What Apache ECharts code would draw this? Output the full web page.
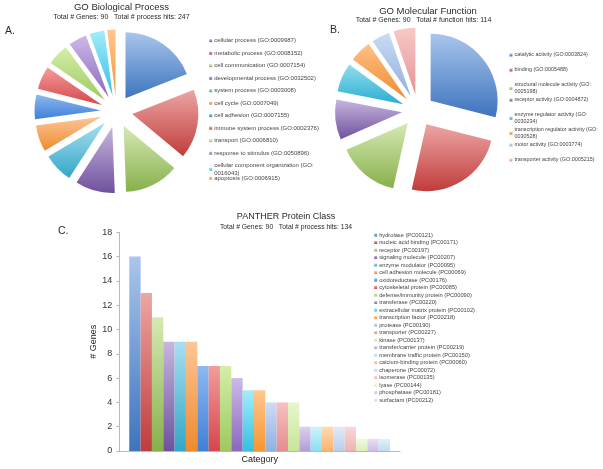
<!DOCTYPE html>
<html><head><meta charset="utf-8">
<script src="https://cdn.jsdelivr.net/npm/echarts@6/dist/echarts.min.js"></script>
<style>html,body{margin:0;padding:0;background:#fff}#c{width:603px;height:469px}</style>
</head><body><div id="c"></div>
<script>
// ---------- DATA ----------
const bpNames = ["cellular process (GO:0009987)","metabolic process (GO:0008152)","cell communication (GO:0007154)","developmental process (GO:0032502)","system process (GO:0003008)","cell cycle (GO:0007049)","cell adhesion (GO:0007155)","immune system process (GO:0002376)","transport (GO:0006810)","response to stimulus (GO:0050896)","cellular component organization (GO:0016043)","apoptosis (GO:0006915)"];
const bpLabels = ["cellular process (GO:0009987)","metabolic process (GO:0008152)","cell communication (GO:0007154)","developmental process (GO:0032502)","system process (GO:0003008)","cell cycle (GO:0007049)","cell adhesion (GO:0007155)","immune system process (GO:0002376)","transport (GO:0006810)","response to stimulus (GO:0050896)","cellular component organization (GO:\n0016043)","apoptosis (GO:0006915)"];
const bpValues = [47, 42, 33, 24, 18, 16, 15, 14, 13, 11, 9, 5];

const mfNames = ["catalytic activity (GO:0003824)","binding (GO:0005488)","structural molecule activity (GO:0005198)","receptor activity (GO:0004872)","enzyme regulator activity (GO:0030234)","transcription regulator activity (GO:0030528)","motor activity (GO:0003774)","transporter activity (GO:0005215)"];
const mfLabels = ["catalytic activity (GO:0003824)","binding (GO:0005488)","structural molecule activity (GO:\n0005198)","receptor activity (GO:0004872)","enzyme regulator activity (GO:\n0030234)","transcription regulator activity (GO:\n0030528)","motor activity (GO:0003774)","transporter activity (GO:0005215)"];
const mfValues = [33, 28, 17, 11, 8, 6, 5, 6];

const pcNames = ["hydrolase (PC00121)","nucleic acid binding (PC00171)","receptor (PC00197)","signaling molecule (PC00207)","enzyme modulator (PC00095)","cell adhesion molecule (PC00069)","oxidoreductase (PC00176)","cytoskeletal protein (PC00085)","defense/immunity protein (PC00090)","transferase (PC00220)","extracellular matrix protein (PC00102)","transcription factor (PC00218)","protease (PC00190)","transporter (PC00227)","kinase (PC00137)","transfer/carrier protein (PC00219)","membrane traffic protein (PC00150)","calcium-binding protein (PC00060)","chaperone (PC00072)","isomerase (PC00135)","lyase (PC00144)","phosphatase (PC00181)","surfactant (PC00212)"];
const pcValues = [16, 13, 11, 9, 9, 9, 7, 7, 7, 6, 5, 5, 4, 4, 4, 2, 2, 2, 2, 2, 1, 1, 1];
const yMin = 0, yMax = 18, yStep = 2;

// ---------- STYLES ----------
const FONT = "'Liberation Sans', Arial, Helvetica, sans-serif";
const base = [
  ["#a9c5ec","#3d74be"],["#eca6a4","#c03c3b"],["#d6e9b4","#87b04b"],["#c6b6df","#6f519d"],["#a8dff0","#33a6c6"],["#fcc698","#ee8a2e"]
];
const bright = [
  ["#8cb9f2","#3f80d6"],["#f39c9c","#d6464a"],["#d4eea8","#9dc95f"],["#cdb9e8","#8a68bf"],["#a3ecfb","#34c0e0"],["#ffc88e","#f59632"]
];
const light = [
  ["#cddcf4","#8fb1e2"],["#f8c0c0","#e38e8e"],["#e8f6cc","#c7e599"],["#ddd0ef","#b39dd6"],["#cdf3fb","#8ddff1"],["#ffdab4","#fcb26c"]
];
const lighter = [
  ["#e2eaf7","#b9cdec"],["#f9d8d8","#eeb2b2"],["#f0f9e0","#dbefb6"],["#e8e0f3","#cbbde5"],["#e2f1fa","#bcdcf1"]
];
const mfColors = [base[0],base[1],base[2],base[3],["#94ddf0","#2aaed0"],["#ffc187","#f0892a"],["#cbdaf3","#8fb0df"],["#f8c8c8","#e59494"]];
const bpColors = base.concat(bright);
const pcColors = base.concat(bright, light, lighter);

function grad(c){
  return new echarts.graphic.LinearGradient(0,0,0,1,[{offset:0,color:c[0]},{offset:1,color:c[1]}]);
}
function legends(names, labels, left, y0, pitch, fs){
  const lh = fs + 1.2;
  return names.map((n,i)=>({
    data:[n], orient:'vertical', left:left, top: y0 + i*pitch - lh/2, padding:0,
    itemWidth:3, itemHeight:3, icon:'rect', selectedMode:false,
    formatter: function(name){ return labels[names.indexOf(name)]; },
    textStyle:{fontSize:fs, lineHeight:lh, color:'#444', fontFamily:FONT, padding:[0,0,0,-3]}
  }));
}
function t(text, left, top, fs, align){
  const o = {text:text, left:left, top:top, padding:0, itemGap:0,
    textStyle:{fontSize:fs, fontWeight:'normal', color:'#2a2a2a', fontFamily:FONT}};
  if (align) o.textAlign = align;
  return o;
}

const chart = echarts.init(document.getElementById('c'), null, {renderer:'canvas'});

const titles = [
  t('GO Biological Process', 121.5, 2.8, 9.5, 'center'),
  t('Total # Genes: 90   Total # process hits: 247', 121.5, 13.8, 7, 'center'),
  t('A.', 5, 25.5, 10.5),
  t('GO Molecular Function', 428, 6, 9.5, 'center'),
  t('Total # Genes: 90   Total # function hits: 114', 423.5, 16.5, 7, 'center'),
  t('B.', 330, 24.5, 10.5),
  t('PANTHER Protein Class', 286, 212.5, 9, 'center'),
  t('Total # Genes: 90   Total # process hits: 134', 286, 223.6, 6.8, 'center'),
  t('C.', 58, 225.5, 10.5)
];

const series = [
  {type:'pie', name:'bp', center:[116.5,111.5], radius:66, startAngle:90, clockwise:true,
   selectedMode:'multiple', selectedOffset:16, label:{show:false}, labelLine:{show:false},
   emphasis:{disabled:true}, animation:false,
   data: bpNames.map((n,i)=>({name:n, value:bpValues[i], selected:true, itemStyle:{color:grad(bpColors[i])}}))},
  {type:'pie', name:'mf', center:[418,110.6], radius:67, startAngle:90, clockwise:true,
   selectedMode:'multiple', selectedOffset:16, label:{show:false}, labelLine:{show:false},
   emphasis:{disabled:true}, animation:false,
   data: mfNames.map((n,i)=>({name:n, value:mfValues[i], selected:true, itemStyle:{color:grad(mfColors[i])}}))}
].concat(pcNames.map((n,i)=>({
  type:'bar', name:n, data:[pcValues[i]], barGap:'0%', barCategoryGap:'7.1%',
  itemStyle:{color:grad(pcColors[i])}, emphasis:{disabled:true}, animation:false
})));

chart.setOption({
  backgroundColor:'#fff',
  animation:false,
  title: titles,
  grid:{left:119.3, top:232.3, width:280.7, height:218.7, containLabel:false},
  xAxis:{type:'category', data:[''], name:'Category', nameLocation:'middle', nameGap:4,
    nameTextStyle:{fontSize:9, color:'#222', fontFamily:FONT},
    axisLine:{lineStyle:{color:'#b8b8b8'}}, axisTick:{show:false}, axisLabel:{show:false}},
  yAxis:{type:'value', min:yMin, max:yMax, interval:yStep, name:'# Genes', nameLocation:'middle', nameGap:21, nameRotate:90,
    nameTextStyle:{fontSize:9, color:'#222', fontFamily:FONT},
    axisLine:{show:true, lineStyle:{color:'#b8b8b8'}}, axisTick:{show:true, length:3, lineStyle:{color:'#b8b8b8'}},
    splitLine:{show:false}, axisLabel:{fontSize:9, color:'#333', margin:7, fontFamily:FONT}},
  legend: [].concat(
    legends(bpNames, bpLabels, 209.2, 40.7, 12.5, 6),
    legends(mfNames, mfLabels, 509.5, 55, 15, 5.4),
    legends(pcNames, pcNames, 374.2, 235, 7.5, 5.7)
  ),
  series: series
});
</script>
</body></html>
